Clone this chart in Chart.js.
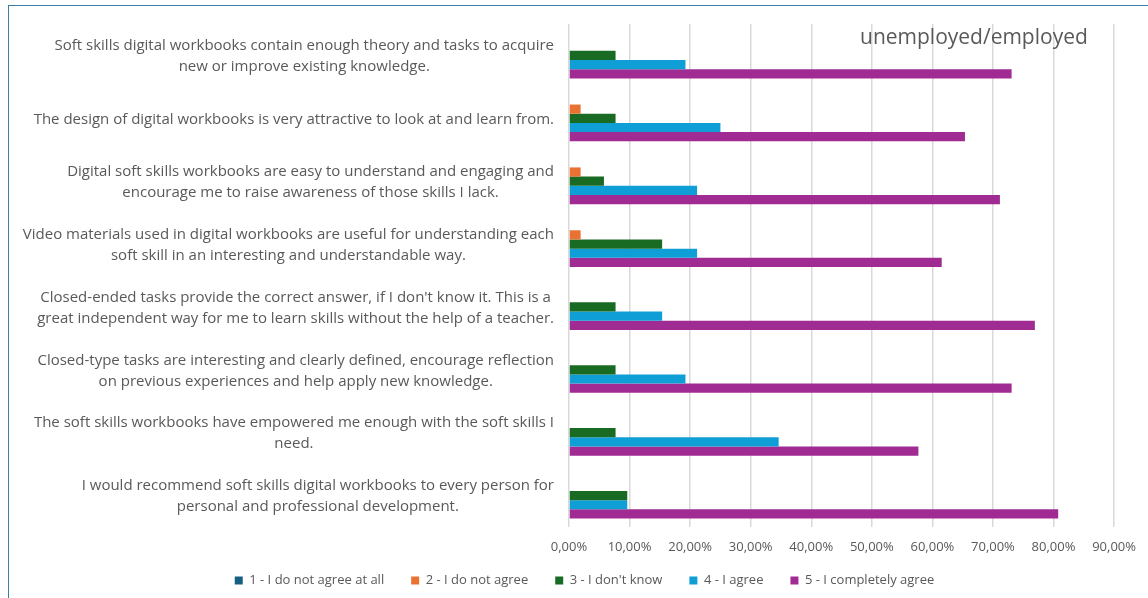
<!DOCTYPE html>
<html>
<head>
<meta charset="utf-8">
<script src="https://cdn.jsdelivr.net/npm/chart.js@4.4.1/dist/chart.umd.min.js"></script>
<style>
  html, body { margin: 0; padding: 0; background: #fff; }
  #wrap { position: relative; width: 1148px; height: 598px; overflow: hidden; }
  #frame { position: absolute; left: 8px; top: 5px; width: 1200px; height: 700px;
           border-top: 1.5px solid #3b7ea6; border-left: 1.5px solid #3b7ea6; }
  #c { position: absolute; left: 0; top: 0; }
</style>
</head>
<body>
<div id="wrap">
  <div id="frame"></div>
  <canvas id="c" width="1148" height="598"></canvas>
</div>
<script>
// questions (top to bottom), each split into its display lines
const questions = [
    ["Soft skills digital workbooks contain enough theory and tasks to acquire", "new or improve existing knowledge."],
    ["The design of digital workbooks is very attractive to look at and learn from."],
    ["Digital soft skills workbooks are easy to understand and engaging and", "encourage me to raise awareness of those skills I lack."],
    ["Video materials used in digital workbooks are useful for understanding each", "soft skill in an interesting and understandable way."],
    ["Closed-ended tasks provide the correct answer, if I don't know it. This is a", "great independent way for me to learn skills without the help of a teacher."],
    ["Closed-type tasks are interesting and clearly defined, encourage reflection", "on previous experiences and help apply new knowledge."],
    ["The soft skills workbooks have empowered me enough with the soft skills I", "need."],
    ["I would recommend soft skills digital workbooks to every person for", "personal and professional development."]
];

const seriesNames = ["1 - I do not agree at all", "2 - I do not agree", "3 - I don't know", "4 - I agree", "5 - I completely agree"];

// percentages per question
const notAgreeAtAll = [0, 0, 0, 0, 0, 0, 0, 0];
const notAgree      = [0, 1.92, 1.92, 1.92, 0, 0, 0, 0];
const dontKnow      = [7.69, 7.69, 5.77, 15.38, 7.69, 7.69, 7.69, 9.62];
const agree         = [19.23, 25.00, 21.15, 21.15, 15.38, 19.23, 34.62, 9.62];
const completely    = [73.08, 65.38, 71.15, 61.54, 76.92, 73.08, 57.69, 80.77];

const xTicksMax = 90;
const xTicksStep = 10;
const chartTitle = "unemployed/employed";

const colors = ['#156082', '#E97132', '#196B24', '#0F9ED5', '#A02B93'];
const allData = [notAgreeAtAll, notAgree, dontKnow, agree, completely];

const labelFont = '15px "Open Sans"';

// draws the question labels (block right aligned, lines centred) and the title
const labelPlugin = {
    id: 'labels',
    afterLayout(chart) {
        // legend sits closer to the axis and a bit right of centre
        chart.legend.top -= 12;
        chart.legend.bottom -= 12;
        chart.legend.left += 27;
        chart.legend.right += 27;
    },
    afterDraw(chart) {
        const ctx = chart.ctx;
        const yScale = chart.scales.y;
        ctx.save();
        ctx.font = labelFont;
        ctx.fillStyle = '#595959';
        ctx.textAlign = 'center';
        ctx.textBaseline = 'middle';
        const rightEdge = chart.chartArea.left - 15;
        const lineH = 21;
        questions.forEach((lines, i) => {
            const y = yScale.getPixelForValue(i) + 1;
            let w = 0;
            lines.forEach(l => { w = Math.max(w, ctx.measureText(l).width); });
            const cx = rightEdge - w / 2;
            const y0 = y - (lines.length - 1) * lineH / 2;
            lines.forEach((l, k) => ctx.fillText(l, cx, y0 + k * lineH));
        });
        ctx.font = '21px "Open Sans"';
        ctx.textAlign = 'left';
        ctx.fillText(chartTitle, 860, 38);
        ctx.restore();
    }
};

new Chart(document.getElementById('c'), {
    type: 'bar',
    data: {
        labels: questions.map(q => q.join(' ')),
        datasets: seriesNames.map((name, i) => ({
            label: name,
            data: allData[i],
            backgroundColor: colors[i],
            borderWidth: 0,
            barPercentage: 1,
            categoryPercentage: 0.73
        }))
    },
    options: {
        indexAxis: 'y',
        responsive: false,
        animation: false,
        layout: { padding: { top: 24, right: 33, bottom: -11, left: 0 } },
        scales: {
            x: {
                min: 0,
                max: xTicksMax,
                border: { display: false },
                grid: { color: '#d9d9d9', lineWidth: 1.5, drawTicks: false },
                ticks: {
                    stepSize: xTicksStep,
                    padding: 12,
                    color: '#595959',
                    font: { family: 'Open Sans', size: 13 },
                    callback: v => v.toFixed(2).replace('.', ',') + '%'
                },
                afterFit(scale) { scale.height = 32; }
            },
            y: {
                border: { display: false },
                grid: { display: false },
                ticks: { display: false },
                afterFit(scale) { scale.width = 569; }
            }
        },
        plugins: {
            legend: {
                position: 'bottom',
                labels: {
                    boxWidth: 8,
                    boxHeight: 8,
                    padding: 27,
                    color: '#595959',
                    font: { family: 'Open Sans', size: 13 }
                }
            },
            tooltip: { enabled: false }
        }
    },
    plugins: [labelPlugin]
});
</script>
</body>
</html>
